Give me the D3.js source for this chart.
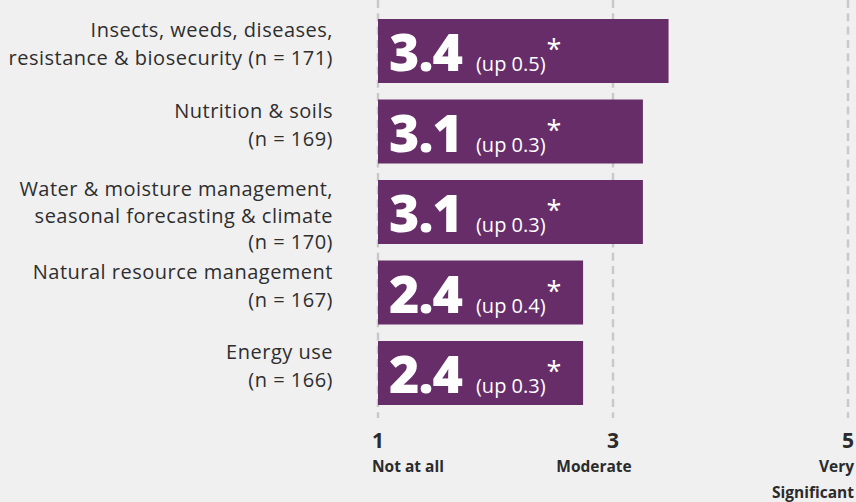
<!DOCTYPE html>
<meta charset="utf-8">
<script src="https://cdn.jsdelivr.net/npm/d3@7"></script>
<style>
	body{margin:0;background:#f0f0f0;font-family:"Open Sans",sans-serif;}
	svg{display:block;}
</style>
<div id="chart"></div>
<script>
// categories (label lines) and values
var labels = [
	["Insects, weeds, diseases,", "resistance & biosecurity (n = 171)"],
	["Nutrition & soils", "(n = 169)"],
	["Water & moisture management,", "seasonal forecasting & climate", "(n = 170)"],
	["Natural resource management", "(n = 167)"],
	["Energy use", "(n = 166)"]
]
var scores = [3.4, 3.1, 3.1, 2.4, 2.4]
var changes = ["(up 0.5)", "(up 0.3)", "(up 0.3)", "(up 0.4)", "(up 0.3)"]
var tickValues = [1, 3, 5]
var tickNames = [["Not at all"], ["Moderate"], ["Very", "Significant"]]

var width = 856
var height = 502
var purple = "#672d69"

var svg = d3.select("#chart").append("svg")
	.attr("width", width)
	.attr("height", height)

// axis scale (1..5) and the bar length scale
var x = d3.scaleLinear().domain([1, 5]).range([378, 848])
var xBar = d3.scaleLinear().domain([0, 5.5]).range([378, 848])
var y = d3.scaleBand().domain(d3.range(scores.length)).range([19, 405]).paddingInner(0.205).paddingOuter(0)

// dashed grid lines
svg.append("g").selectAll("line")
	.data(tickValues)
	.enter().append("line")
	.attr("x1", d => x(d)).attr("x2", d => x(d))
	.attr("y1", 0).attr("y2", 418)
	.attr("stroke", "#c9c9c9")
	.attr("stroke-width", 2.5)
	.attr("stroke-dasharray", "8,5.3")

var rows = svg.append("g").selectAll("g")
	.data(scores)
	.enter().append("g")
	.attr("transform", (d, i) => "translate(0," + y(i) + ")")

rows.append("rect")
	.attr("x", xBar(0))
	.attr("y", 0)
	.attr("width", d => xBar(d) - xBar(0))
	.attr("height", y.bandwidth())
	.attr("fill", purple)

var val = rows.append("text")
	.attr("x", 389)
	.attr("y", 52)
	.attr("fill", "#fff")
val.append("tspan")
	.attr("font-size", 52).attr("font-weight", 800)
	.attr("letter-spacing", -1)
	.text(d => d.toFixed(1))
val.append("tspan")
	.attr("font-size", 20).attr("dx", 14)
	.text((d, i) => changes[i])
val.append("tspan")
	.attr("font-size", 27).attr("dy", -12).attr("dx", 1)
	.text("*")

// category labels, right aligned
rows.each(function(d, i){
	var lines = labels[i]
	var g = d3.select(this)
	var lh = lines.length == 3 ? 26.5 : 28
	var top = lines.length == 3 ? 16 : 18
	g.selectAll(".lab").data(lines).enter().append("text")
		.attr("x", 333)
		.attr("y", (t, j) => top + j * lh)
		.attr("text-anchor", "end")
		.attr("font-size", 20)
		.attr("letter-spacing", 0.5)
		.attr("fill", "#2e2e2e")
		.text(t => t)
})

// axis tick labels
var anchors = ["start", "middle", "end"]
var shift = [-6, -19, 6]
var axis = svg.append("g").selectAll("g")
	.data(tickValues)
	.enter().append("g")
axis.append("text")
	.attr("x", (d, i) => i == 1 ? x(d) : x(d) + shift[i])
	.attr("y", 448)
	.attr("text-anchor", (d, i) => anchors[i])
	.attr("font-size", 21).attr("font-weight", 700)
	.attr("fill", "#2b2b2b")
	.text(d => d)
axis.each(function(d, i){
	d3.select(this).selectAll(".nm").data(tickNames[i]).enter().append("text")
		.attr("x", x(d) + shift[i])
		.attr("y", (t, j) => 472 + j * 26)
		.attr("text-anchor", anchors[i])
		.attr("font-size", 15.5).attr("font-weight", 700)
		.attr("fill", "#2b2b2b")
		.text(t => t)
})
</script>
